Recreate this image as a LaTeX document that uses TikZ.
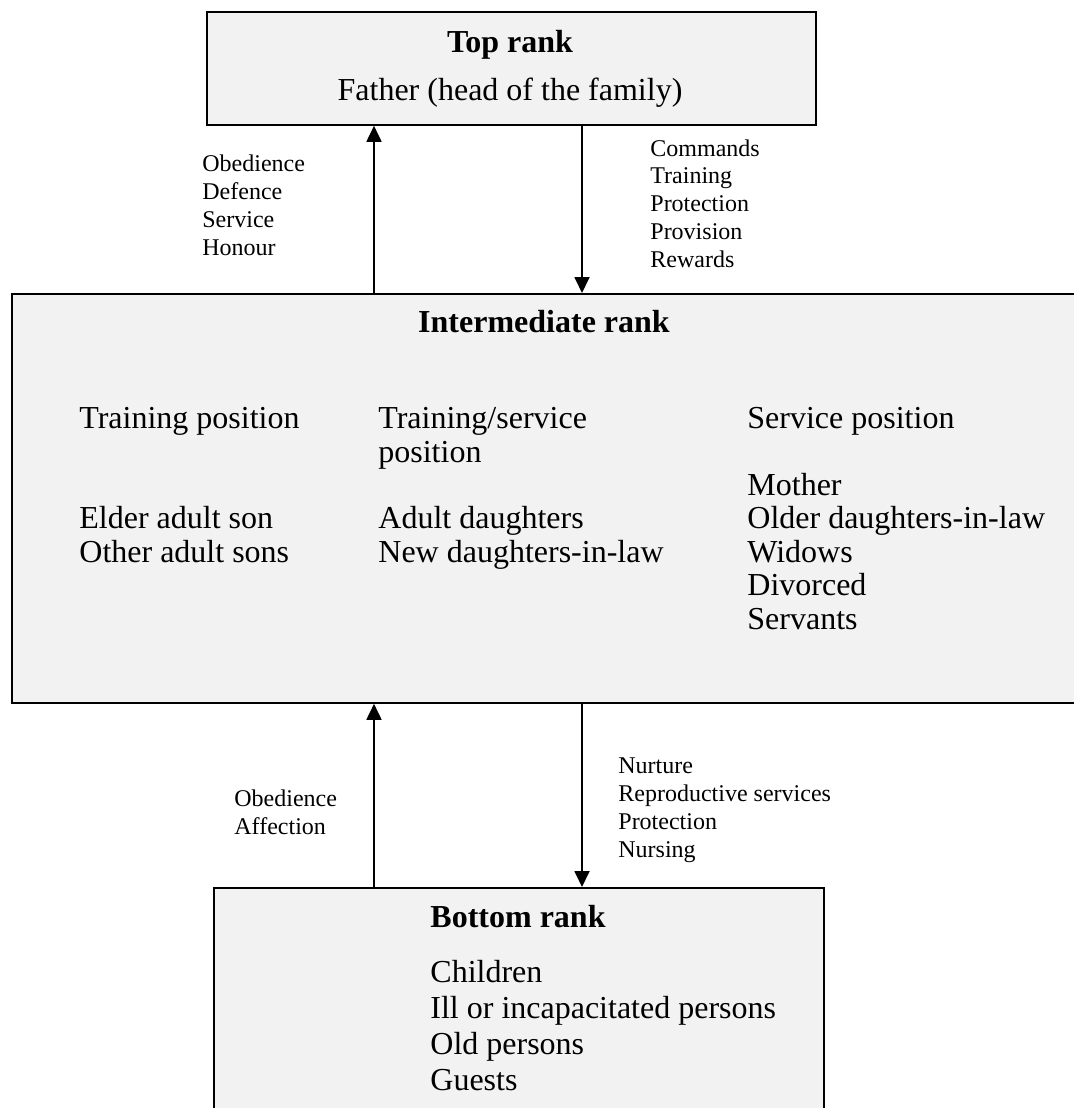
\documentclass[tikz,border=0pt]{standalone}
\usepackage{fontspec}
\setmainfont{Liberation Serif}
\usetikzlibrary{arrows.meta}
\definecolor{boxfill}{HTML}{F2F2F2}
\tikzset{
  rankbox/.style={draw=black, fill=boxfill, line width=0.9pt, inner sep=0pt, anchor=north west},
  flow/.style={line width=0.9pt, -{Triangle[width=7.5pt,length=8pt]}},
  bigtext/.style={font=\fontsize{16pt}{16.75pt}\selectfont, inner sep=0pt, align=left, anchor=base west},
  boldtitle/.style={font=\fontsize{16pt}{18pt}\selectfont\bfseries, inner sep=0pt, anchor=base},
  smalltext/.style={font=\fontsize{12pt}{13.85pt}\selectfont, inner sep=0pt, align=left, anchor=base west}
}
\begin{document}
\begin{tikzpicture}[x=0.5pt,y=-0.5pt]
\useasboundingbox (0,0) rectangle (1074,1108);
\clip (0,0) rectangle (1074,1108);

% the three ranks
\node[rankbox, minimum width=304.5pt, minimum height=56.5pt] (top) at (206,11) {};
\node[rankbox, minimum width=534pt, minimum height=204.5pt] (mid) at (11,293) {};
\node[rankbox, minimum width=305pt, minimum height=120pt] (bot) at (213,887) {};

% top rank (multi-line nodes are placed by the baseline of their last line)
\node[boldtitle] (toptitle) at (510,52) {Top rank};
\node[bigtext, anchor=base] (father) at (510,100) {Father (head of the family)};

% intermediate rank
\node[boldtitle] (midtitle) at (544,332) {Intermediate rank};
\node[bigtext] (c1h) at (79,428) {Training position};
\node[bigtext] (c2h) at (378,462) {Training/service\\position};
\node[bigtext] (c3h) at (747,428) {Service position};
\node[bigtext] (c1) at (79,562) {Elder adult son\\Other adult sons};
\node[bigtext] (c2) at (378,562) {Adult daughters\\New daughters-in-law};
\node[bigtext] (c3) at (747,629) {Mother\\Older daughters-in-law\\Widows\\Divorced\\Servants};

% bottom rank
\node[boldtitle] (bottitle) at (518,927) {Bottom rank};
\node[bigtext, font=\fontsize{16pt}{18pt}\selectfont] (botlist) at (430,1090) {Children\\Ill or incapacitated persons\\Old persons\\Guests};

% exchanges between ranks
\coordinate (upx) at (374,0);
\coordinate (downx) at (582,0);
\draw[flow] (upx |- mid.north) -- (upx |- top.south);
\draw[flow] (downx |- top.south) -- (downx |- mid.north);
\draw[flow] (upx |- bot.north) -- (upx |- mid.south);
\draw[flow] (downx |- mid.south) -- (downx |- bot.north);

\node[smalltext] (upper1) at (202,255) {Obedience\\Defence\\Service\\Honour};
\node[smalltext] (lower1) at (650,267) {Commands\\Training\\Protection\\Provision\\Rewards};
\node[smalltext] (upper2) at (234,834) {Obedience\\Affection};
\node[smalltext] (lower2) at (618,857) {Nurture\\Reproductive services\\Protection\\Nursing};
\end{tikzpicture}
\end{document}
